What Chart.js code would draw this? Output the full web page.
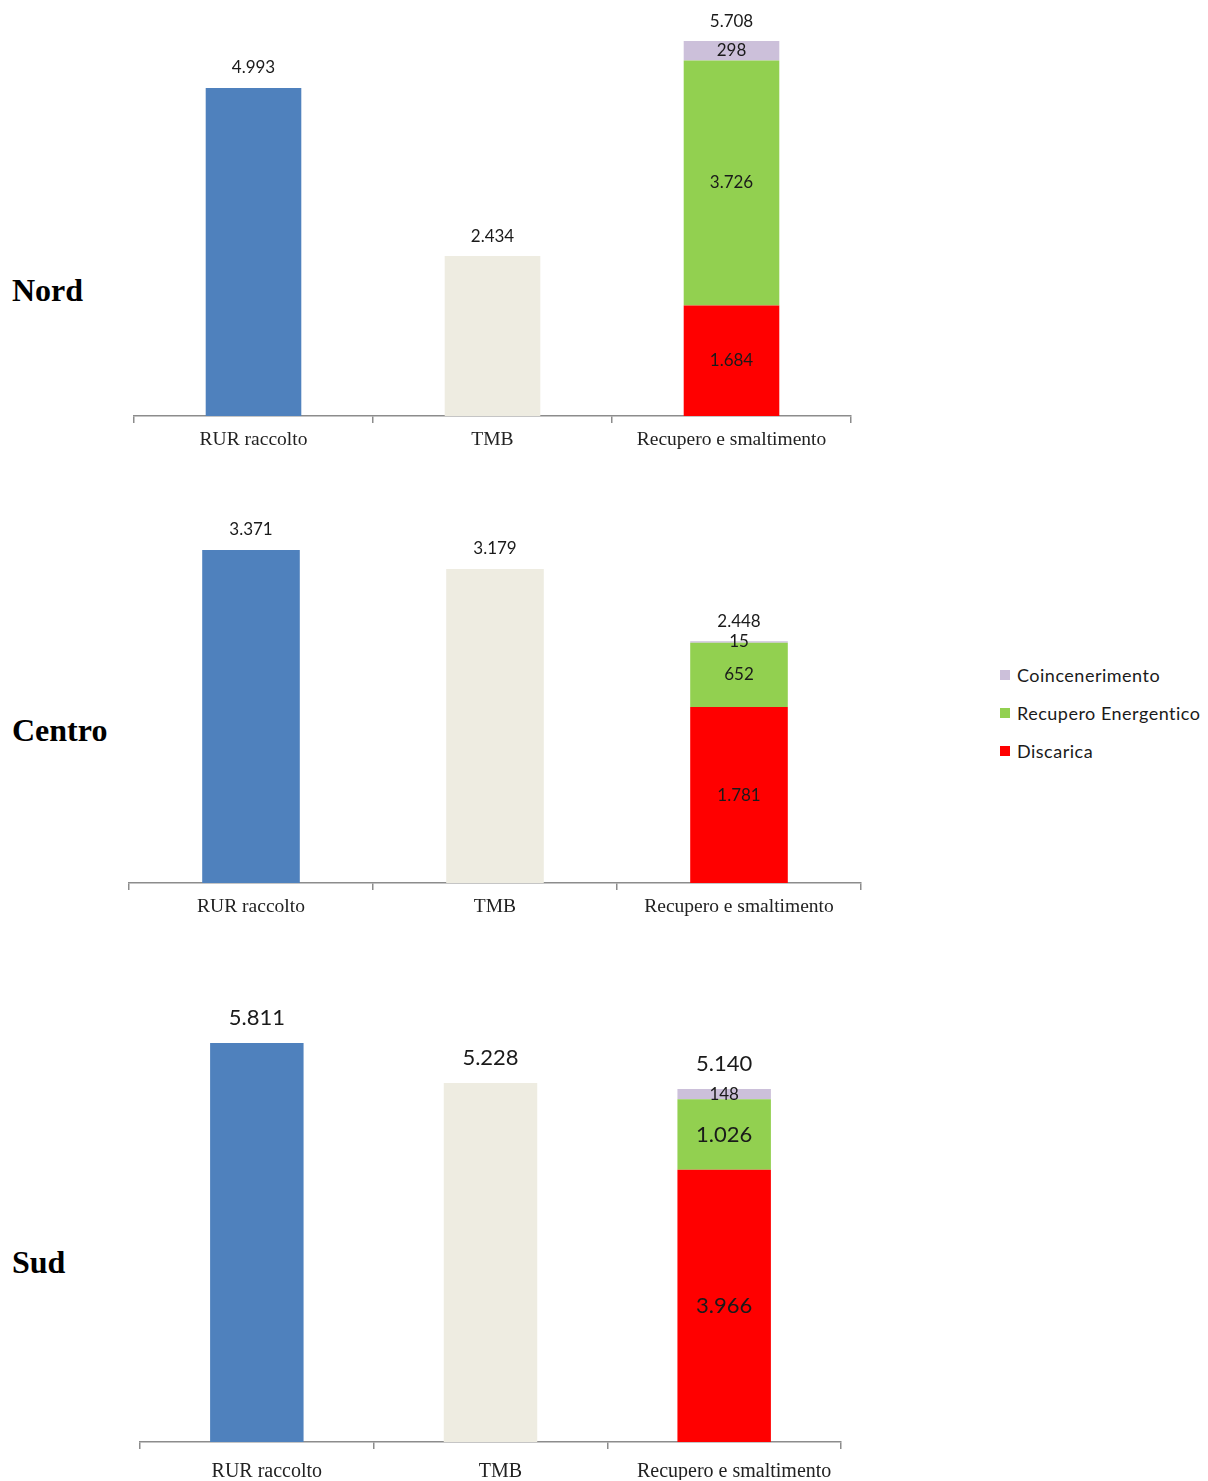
<!DOCTYPE html>
<html>
<head>
<meta charset="utf-8">
<script src="https://cdn.jsdelivr.net/npm/chart.js@4/dist/chart.umd.min.js"></script>
<style>
  html, body { margin: 0; padding: 0; background: #fff; }
  #page { position: relative; width: 1208px; height: 1481px; overflow: hidden; }
  .panel { position: absolute; }
  .region {
    position: absolute; left: 12px; margin: 0;
    font-family: "Liberation Serif", "Times New Roman", serif;
    font-weight: bold; font-size: 32px; line-height: 32px; color: #000;
  }
  #legend {
    position: absolute; left: 1000px; top: 656px;
    font-family: Lato, "Open Sans", sans-serif; font-size: 18px; letter-spacing: 0.5px; color: #1a1a1a;
  }
  .item { display: flex; align-items: center; height: 38px; white-space: nowrap; }
  .swatch { width: 10px; height: 10px; margin-right: 7px; flex: none; }
</style>
</head>
<body>
<div id="page"></div>
<script>
// Rifiuti urbani residui (RUR): raccolto, trattato in TMB, destinazione finale
const regions = ['Nord', 'Centro', 'Sud'];
const categories = ['RUR raccolto', 'TMB', 'Recupero e smaltimento'];

const rurRaccolto = [4993, 3371, 5811];
const tmb = [2434, 3179, 5228];
const discarica = [1684, 1781, 3966];
const recuperoEnergetico = [3726, 652, 1026];
const coincenerimento = [298, 15, 148];

const seriesNames = ['Coincenerimento', 'Recupero Energentico', 'Discarica'];
const colors = {
  'RUR raccolto': '#4f81bd',
  'TMB': '#eeece1',
  'Discarica': '#ff0000',
  'Recupero Energentico': '#92d050',
  'Coincenerimento': '#ccc0da'
};

// Page geometry of each panel (axis line, extent, scale)
const panels = [
  { top: 0,   bottom: 470,  left: 134, right: 851, axisY: 416,  max: 6000, pxPerUnit: 0.06569,
    tickSize: 19.5, tickPad: 5, labelShift: 0, totalSize: 17, gap: 20,
    seg: { 'Discarica': 17, 'Recupero Energentico': 17, 'Coincenerimento': 17 }, regionY: 291 },
  { top: 480, bottom: 940,  left: 129, right: 861, axisY: 883,  max: 3600, pxPerUnit: 0.09878,
    tickSize: 19.5, tickPad: 5, labelShift: 0, totalSize: 17, gap: 20,
    seg: { 'Discarica': 17, 'Recupero Energentico': 17, 'Coincenerimento': 17 }, regionY: 731 },
  { top: 975, bottom: 1481, left: 140, right: 841, axisY: 1442, max: 6000, pxPerUnit: 0.06866,
    tickSize: 20, tickPad: 11, labelShift: 10, totalSize: 22, gap: 25,
    seg: { 'Discarica': 22, 'Recupero Energentico': 22, 'Coincenerimento': 17 }, regionY: 1263 }
];

const AXIS_H = 38;
const SIDE = 20;

function fmt(v) {
  return String(v).replace(/\B(?=(\d{3})+(?!\d))/g, '.');
}

// Draws segment values inside the stacked bar and the stack total above each column
const valueLabels = {
  id: 'valueLabels',
  afterDatasetsDraw(chart, args, opts) {
    const ctx = chart.ctx;
    ctx.save();
    ctx.fillStyle = '#1a1a1a';
    ctx.textAlign = 'center';
    ctx.textBaseline = 'middle';
    const tops = {};
    chart.data.datasets.forEach((ds, di) => {
      const meta = chart.getDatasetMeta(di);
      meta.data.forEach((bar, i) => {
        const v = ds.data[i];
        if (v == null) return;
        const t = tops[i] || (tops[i] = { x: bar.x, y: bar.y, total: 0 });
        t.total += v;
        t.y = Math.min(t.y, bar.y);
        if (opts.seg[ds.label]) {
          ctx.font = opts.seg[ds.label] + 'px Lato, "Open Sans", sans-serif';
          ctx.fillText(fmt(v), bar.x, (bar.y + bar.base) / 2);
        }
      });
    });
    ctx.font = opts.totalSize + 'px Lato, "Open Sans", sans-serif';
    Object.values(tops).forEach(t => ctx.fillText(fmt(t.total), t.x, t.y - opts.gap));
    ctx.restore();
  }
};

const page = document.getElementById('page');

regions.forEach((name, r) => {
  const p = panels[r];
  const width = p.right - p.left + 2 * SIDE;
  const height = p.bottom - p.top;
  const plotTop = p.axisY - p.max * p.pxPerUnit;

  const wrap = document.createElement('div');
  wrap.className = 'panel';
  wrap.style.left = (p.left - SIDE) + 'px';
  wrap.style.top = p.top + 'px';
  wrap.style.width = width + 'px';
  wrap.style.height = height + 'px';
  const canvas = document.createElement('canvas');
  wrap.appendChild(canvas);
  page.appendChild(wrap);

  const label = document.createElement('div');
  label.className = 'region';
  label.textContent = name;
  label.style.top = (p.regionY - 17) + 'px';
  page.appendChild(label);

  const only = (i, v) => categories.map((_, k) => (k === i ? v : null));
  const datasets = [
    { label: 'RUR raccolto', data: only(0, rurRaccolto[r]) },
    { label: 'TMB', data: only(1, tmb[r]) },
    { label: 'Discarica', data: only(2, discarica[r]) },
    { label: 'Recupero Energentico', data: only(2, recuperoEnergetico[r]) },
    { label: 'Coincenerimento', data: only(2, coincenerimento[r]) }
  ].map(d => Object.assign(d, {
    backgroundColor: colors[d.label],
    borderWidth: 0,
    categoryPercentage: 1,
    barPercentage: 0.4,
    skipNull: true
  }));

  new Chart(canvas, {
    type: 'bar',
    data: { labels: categories, datasets },
    plugins: [valueLabels],
    options: {
      responsive: true,
      maintainAspectRatio: false,
      animation: false,
      layout: {
        padding: {
          top: plotTop - p.top,
          bottom: p.bottom - p.axisY - AXIS_H,
          left: SIDE,
          right: SIDE
        }
      },
      scales: {
        x: {
          stacked: true,
          offset: true,
          afterFit(scale) { scale.height = AXIS_H; },
          grid: {
            display: true, drawOnChartArea: false, drawTicks: true,
            tickLength: 7, offset: true, color: '#8c8c8c', lineWidth: 1.5
          },
          border: { display: true, color: '#8c8c8c', width: 1.5 },
          ticks: {
            color: '#222',
            padding: p.tickPad,
            labelOffset: p.labelShift,
            maxRotation: 0,
            font: { family: '"Liberation Serif", "Times New Roman", serif', size: p.tickSize }
          }
        },
        y: { stacked: true, display: false, min: 0, max: p.max }
      },
      plugins: {
        legend: { display: false },
        tooltip: { enabled: false },
        valueLabels: { seg: p.seg, totalSize: p.totalSize, gap: p.gap }
      }
    }
  });
});

// Legend for the destination series
const legend = document.createElement('div');
legend.id = 'legend';
seriesNames.forEach(n => {
  const item = document.createElement('div');
  item.className = 'item';
  const sw = document.createElement('span');
  sw.className = 'swatch';
  sw.style.background = colors[n];
  const tx = document.createElement('span');
  tx.textContent = n;
  item.appendChild(sw);
  item.appendChild(tx);
  legend.appendChild(item);
});
page.appendChild(legend);
</script>
</body>
</html>
